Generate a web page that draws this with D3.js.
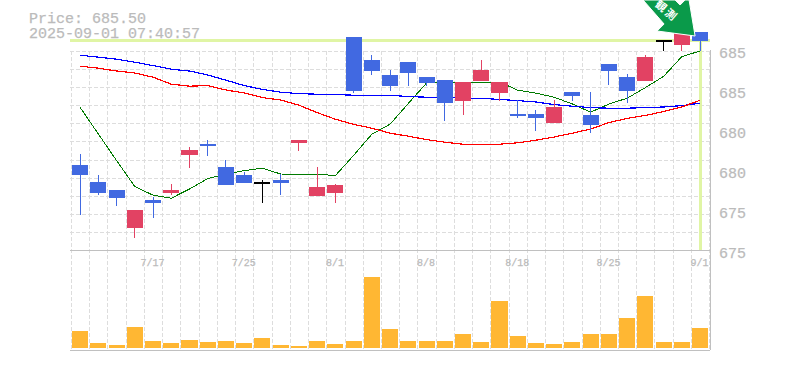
<!DOCTYPE html>
<html>
<head>
<meta charset="utf-8">
<script src="https://cdn.jsdelivr.net/npm/d3@7"></script>
<style>
    body { margin: 0; background: #fff; }
    svg { display: block; }
    text { font-family: "Liberation Mono", monospace; fill: #bbb; stroke: #bbb; stroke-width: 0.25px; }
    .axis path, .axis line { display: none; }
    .axis.price text, .title { font-size: 15px; }
    .axis.date text { font-size: 10px; fill: #bbb; }
    .axis.price text { fill: #bbb; }
    .grid line { stroke: #ddd; stroke-dasharray: 4 2; shape-rendering: crispEdges; }
    .frame line { stroke: #c0c0c0; shape-rendering: crispEdges; }
    .cross line { stroke: #e0f5a5; stroke-width: 3; shape-rendering: crispEdges; }
    .ma { fill: none; shape-rendering: crispEdges; }
</style>
</head>
<body>
<div id="chart"></div>
<script>
var dates = ['7/11', '7/14', '7/15', '7/16', '7/17', '7/18', '7/22', '7/23', '7/24', '7/25',
    '7/28', '7/29', '7/30', '7/31', '8/1', '8/4', '8/5', '8/6', '8/7', '8/8',
    '8/12', '8/13', '8/14', '8/15', '8/18', '8/19', '8/20', '8/21', '8/22', '8/25',
    '8/26', '8/27', '8/28', '8/29', '9/1']
var dateLabels = ['7/17', '7/25', '8/1', '8/8', '8/18', '8/25', '9/1']

var open = [679.4, 678.55, 678.15, 676.25, 677.65, 678.0, 679.9, 680.45, 679.3, 678.9,
    678.55, 678.65, 680.5, 677.85, 678.0, 685.8, 684.65, 683.9, 684.55, 683.8,
    683.65, 682.6, 683.6, 683.0, 681.95, 681.95, 681.5, 683.05, 681.9, 684.45,
    683.8, 683.6, 685.65, 685.4, 686.05]
var high = [679.95, 678.9, 678.15, 677.15, 677.8, 678.45, 680.3, 680.65, 679.65, 679.05,
    678.65, 678.95, 680.65, 679.3, 678.45, 685.8, 684.9, 684.15, 684.55, 683.8,
    683.65, 683.55, 684.65, 683.55, 682.65, 682.15, 682.65, 683.05, 683.05, 684.45,
    683.95, 684.9, 685.65, 686.0, 686.05]
var low = [676.9, 677.9, 677.35, 675.75, 676.75, 677.9, 679.25, 679.85, 678.4, 678.5,
    677.5, 677.9, 680.1, 677.85, 677.5, 683.0, 683.9, 683.1, 683.35, 683.35,
    681.6, 681.9, 683.6, 682.6, 681.75, 681.1, 681.5, 682.6, 681.0, 683.4,
    682.5, 683.6, 685.1, 685.1, 685.1]
var close = [678.9, 678.0, 677.75, 677.15, 677.5, 678.15, 680.15, 680.35, 678.4, 678.5,
    678.55, 678.5, 680.65, 678.3, 678.4, 683.1, 684.1, 683.35, 684.0, 683.5,
    682.5, 683.55, 684.15, 683.55, 681.85, 681.75, 682.3, 682.85, 681.4, 684.1,
    683.1, 684.8, 685.65, 686.0, 685.6]

var volume = [1700, 500, 300, 2100, 700, 500, 800, 600, 700, 500,
    1000, 300, 200, 700, 400, 700, 7100, 1900, 700, 700,
    700, 1400, 600, 4700, 1200, 500, 400, 600, 1400, 1400,
    3000, 5200, 600, 600, 2000]

var maShort = [682.28, 680.95, 679.62, 678.32, 677.89, 677.74, 678.20, 678.72, 678.95, 679.12,
    679.24, 678.95, 678.94, 678.94, 678.87, 679.88, 680.94, 681.44, 682.48, 683.50,
    683.55, 683.55, 683.55, 683.55, 683.14, 682.99, 682.79, 682.45, 682.04, 682.45,
    682.74, 683.27, 683.83, 684.82, 685.10]
var maMid = [684.89, 684.79, 684.69, 684.54, 684.37, 684.19, 684.10, 683.90, 683.64, 683.37,
    683.18, 683.04, 682.97, 682.94, 682.92, 682.89, 682.89, 682.89, 682.82, 682.79,
    682.78, 682.75, 682.73, 682.68, 682.62, 682.55, 682.42, 682.34, 682.27, 682.24,
    682.24, 682.27, 682.30, 682.37, 682.49]
var maLong = [684.34, 684.24, 684.10, 684.00, 683.79, 683.44, 683.34, 683.37, 683.15, 683.00,
    682.77, 682.65, 682.39, 682.02, 681.69, 681.43, 681.24, 680.99, 680.84, 680.67,
    680.54, 680.44, 680.44, 680.44, 680.51, 680.64, 680.80, 680.99, 681.20, 681.52,
    681.73, 681.88, 682.07, 682.30, 682.64]

var priceTicks = [685, 683, 681, 679, 677, 675]
var priceLabels = ['685', '685', '680', '680', '675', '675']
var titleLines = ['Price: 685.50', '2025-09-01 07:40:57']
var arrowLabel = '観測'
var lastPrice = 685.5

var width = 785
var height = 370
var plot = { left: 71, right: 710, top: 51, bottom: 250, volumeBottom: 350 }

var x = d3.scaleBand()
    .domain(dates)
    .range([plot.left, plot.right - 0.8])
    .paddingInner(0.12)
    .paddingOuter(0.06)
var center = function(d) {
    return x(d) + x.bandwidth() / 2
}
var y = d3.scaleLinear().domain([675, 685]).range([253, 53])
var yVolume = d3.scaleLinear().domain([0, 7100]).range([348, 277])

var svg = d3.select('#chart').append('svg')
    .attr('width', width)
    .attr('height', height)

// dashed grid, vertical lines run down through the volume panel
var gridStep = (plot.bottom - plot.top) / 11
var grid = svg.append('g').attr('class', 'grid')
grid.selectAll('line.v')
    .data(dates)
    .enter().append('line')
    .attr('class', 'v')
    .attr('x1', function(d) { return Math.round(center(d) - x.step() / 2) })
    .attr('x2', function(d) { return Math.round(center(d) - x.step() / 2) })
    .attr('y1', plot.top)
    .attr('y2', plot.volumeBottom)
grid.append('line')
    .attr('x1', plot.right - 1)
    .attr('x2', plot.right - 1)
    .attr('y1', plot.top)
    .attr('y2', plot.volumeBottom)
grid.selectAll('line.h')
    .data(d3.range(1, 12))
    .enter().append('line')
    .attr('class', 'h')
    .attr('x1', plot.left - 1)
    .attr('x2', plot.right)
    .attr('y1', function(d) { return Math.round(plot.bottom - d * gridStep) })
    .attr('y2', function(d) { return Math.round(plot.bottom - d * gridStep) })

var frame = svg.append('g').attr('class', 'frame')
frame.append('line').attr('x1', plot.left - 1).attr('x2', plot.right).attr('y1', plot.bottom).attr('y2', plot.bottom)
frame.append('line').attr('x1', plot.left - 1).attr('x2', plot.right).attr('y1', plot.volumeBottom).attr('y2', plot.volumeBottom)
frame.append('line').attr('x1', plot.right).attr('x2', plot.right).attr('y1', plot.top - 1).attr('y2', plot.volumeBottom)

// crosshair on the latest price
var cross = svg.append('g').attr('class', 'cross')
cross.append('line')
    .attr('x1', plot.left - 1)
    .attr('x2', plot.right)
    .attr('y1', y(lastPrice) - 2.5)
    .attr('y2', y(lastPrice) - 2.5)
cross.append('line')
    .attr('x1', center(dates[dates.length - 1]) + 0.5)
    .attr('x2', center(dates[dates.length - 1]) + 0.5)
    .attr('y1', y(lastPrice) - 2.5)
    .attr('y2', plot.bottom)

var maLine = d3.line()
    .x(function(d, i) { return center(dates[i]) })
    .y(function(d) { return y(d) })

svg.append('path').datum(maShort).attr('class', 'ma')
    .attr('stroke', '#007a00').attr('stroke-width', 1).attr('d', maLine)
svg.append('path').datum(maMid).attr('class', 'ma')
    .attr('stroke', '#0000ff').attr('stroke-width', 1.2).attr('d', maLine)
svg.append('path').datum(maLong).attr('class', 'ma')
    .attr('stroke', '#ff0000').attr('stroke-width', 1.2).attr('d', maLine)

var candleColor = function(i) {
    if (close[i] === open[i]) {
        return '#000'
    }
    return close[i] > open[i] ? '#e24263' : '#4169e1'
}

var candles = svg.append('g')
    .attr('class', 'candles')
    .attr('shape-rendering', 'crispEdges')
    .selectAll('g')
    .data(dates)
    .enter().append('g')
candles.append('line')
    .attr('x1', function(d) { return Math.floor(center(d)) + 0.5 })
    .attr('x2', function(d) { return Math.floor(center(d)) + 0.5 })
    .attr('y1', function(d, i) { return y(high[i]) })
    .attr('y2', function(d, i) { return y(low[i]) })
    .attr('stroke', function(d, i) { return candleColor(i) })
candles.append('rect')
    .attr('x', function(d) { return x(d) })
    .attr('width', x.bandwidth())
    .attr('y', function(d, i) { return y(Math.max(open[i], close[i])) })
    .attr('height', function(d, i) { return Math.max(Math.abs(y(open[i]) - y(close[i])), 1.5) })
    .attr('fill', function(d, i) { return candleColor(i) })

svg.append('g')
    .attr('class', 'volume')
    .attr('shape-rendering', 'crispEdges')
    .selectAll('rect')
    .data(volume)
    .enter().append('rect')
    .attr('x', function(d, i) { return x(dates[i]) })
    .attr('width', x.bandwidth())
    .attr('y', function(d) { return yVolume(d) })
    .attr('height', function(d) { return yVolume(0) - yVolume(d) })
    .attr('fill', '#ffb733')

var axisPrice = d3.axisRight(y)
    .tickValues(priceTicks)
    .tickFormat(function(d, i) { return priceLabels[i] })
    .tickSize(0)
    .tickPadding(9)
svg.append('g')
    .attr('class', 'axis price')
    .attr('transform', 'translate(' + [plot.right, 0] + ')')
    .call(axisPrice)

var axisDate = d3.axisBottom(x)
    .tickValues(dateLabels)
    .tickSize(0)
    .tickPadding(9)
svg.append('g')
    .attr('class', 'axis date')
    .attr('transform', 'translate(' + [-0.5, plot.bottom] + ')')
    .call(axisDate)

svg.selectAll('text.title')
    .data(titleLines)
    .enter().append('text')
    .attr('class', 'title')
    .attr('x', 29)
    .attr('y', function(d, i) { return 23 + i * 15 })
    .text(function(d) { return d })

// green callout pointing at the last candle, placed relative to it
var tipX = center(dates[dates.length - 1]) - 5
var tipY = y(lastPrice) - 7
var arrow = svg.append('g')
    .attr('transform', 'translate(' + [tipX, tipY] + ')')
arrow.append('path')
    .attr('d', 'M-52,-36 L-31,-12 L-38,-5 L0,0 L-6,-36 L-10,-36 L-15,-31 L-20,-36 Z')
    .attr('fill', '#0a9a4a')
    .attr('stroke', '#fff')
    .attr('stroke-width', 1)
arrow.append('text')
    .attr('transform', 'translate(-28.5,-25) rotate(40)')
    .attr('text-anchor', 'middle')
    .attr('dy', '0.35em')
    .style('font-family', '"Noto Sans CJK JP"')
    .style('font-size', '11px')
    .style('font-weight', 'bold')
    .style('letter-spacing', '2px')
    .style('fill', '#fff')
    .style('stroke', 'none')
    .text(arrowLabel)
</script>
</body>
</html>
